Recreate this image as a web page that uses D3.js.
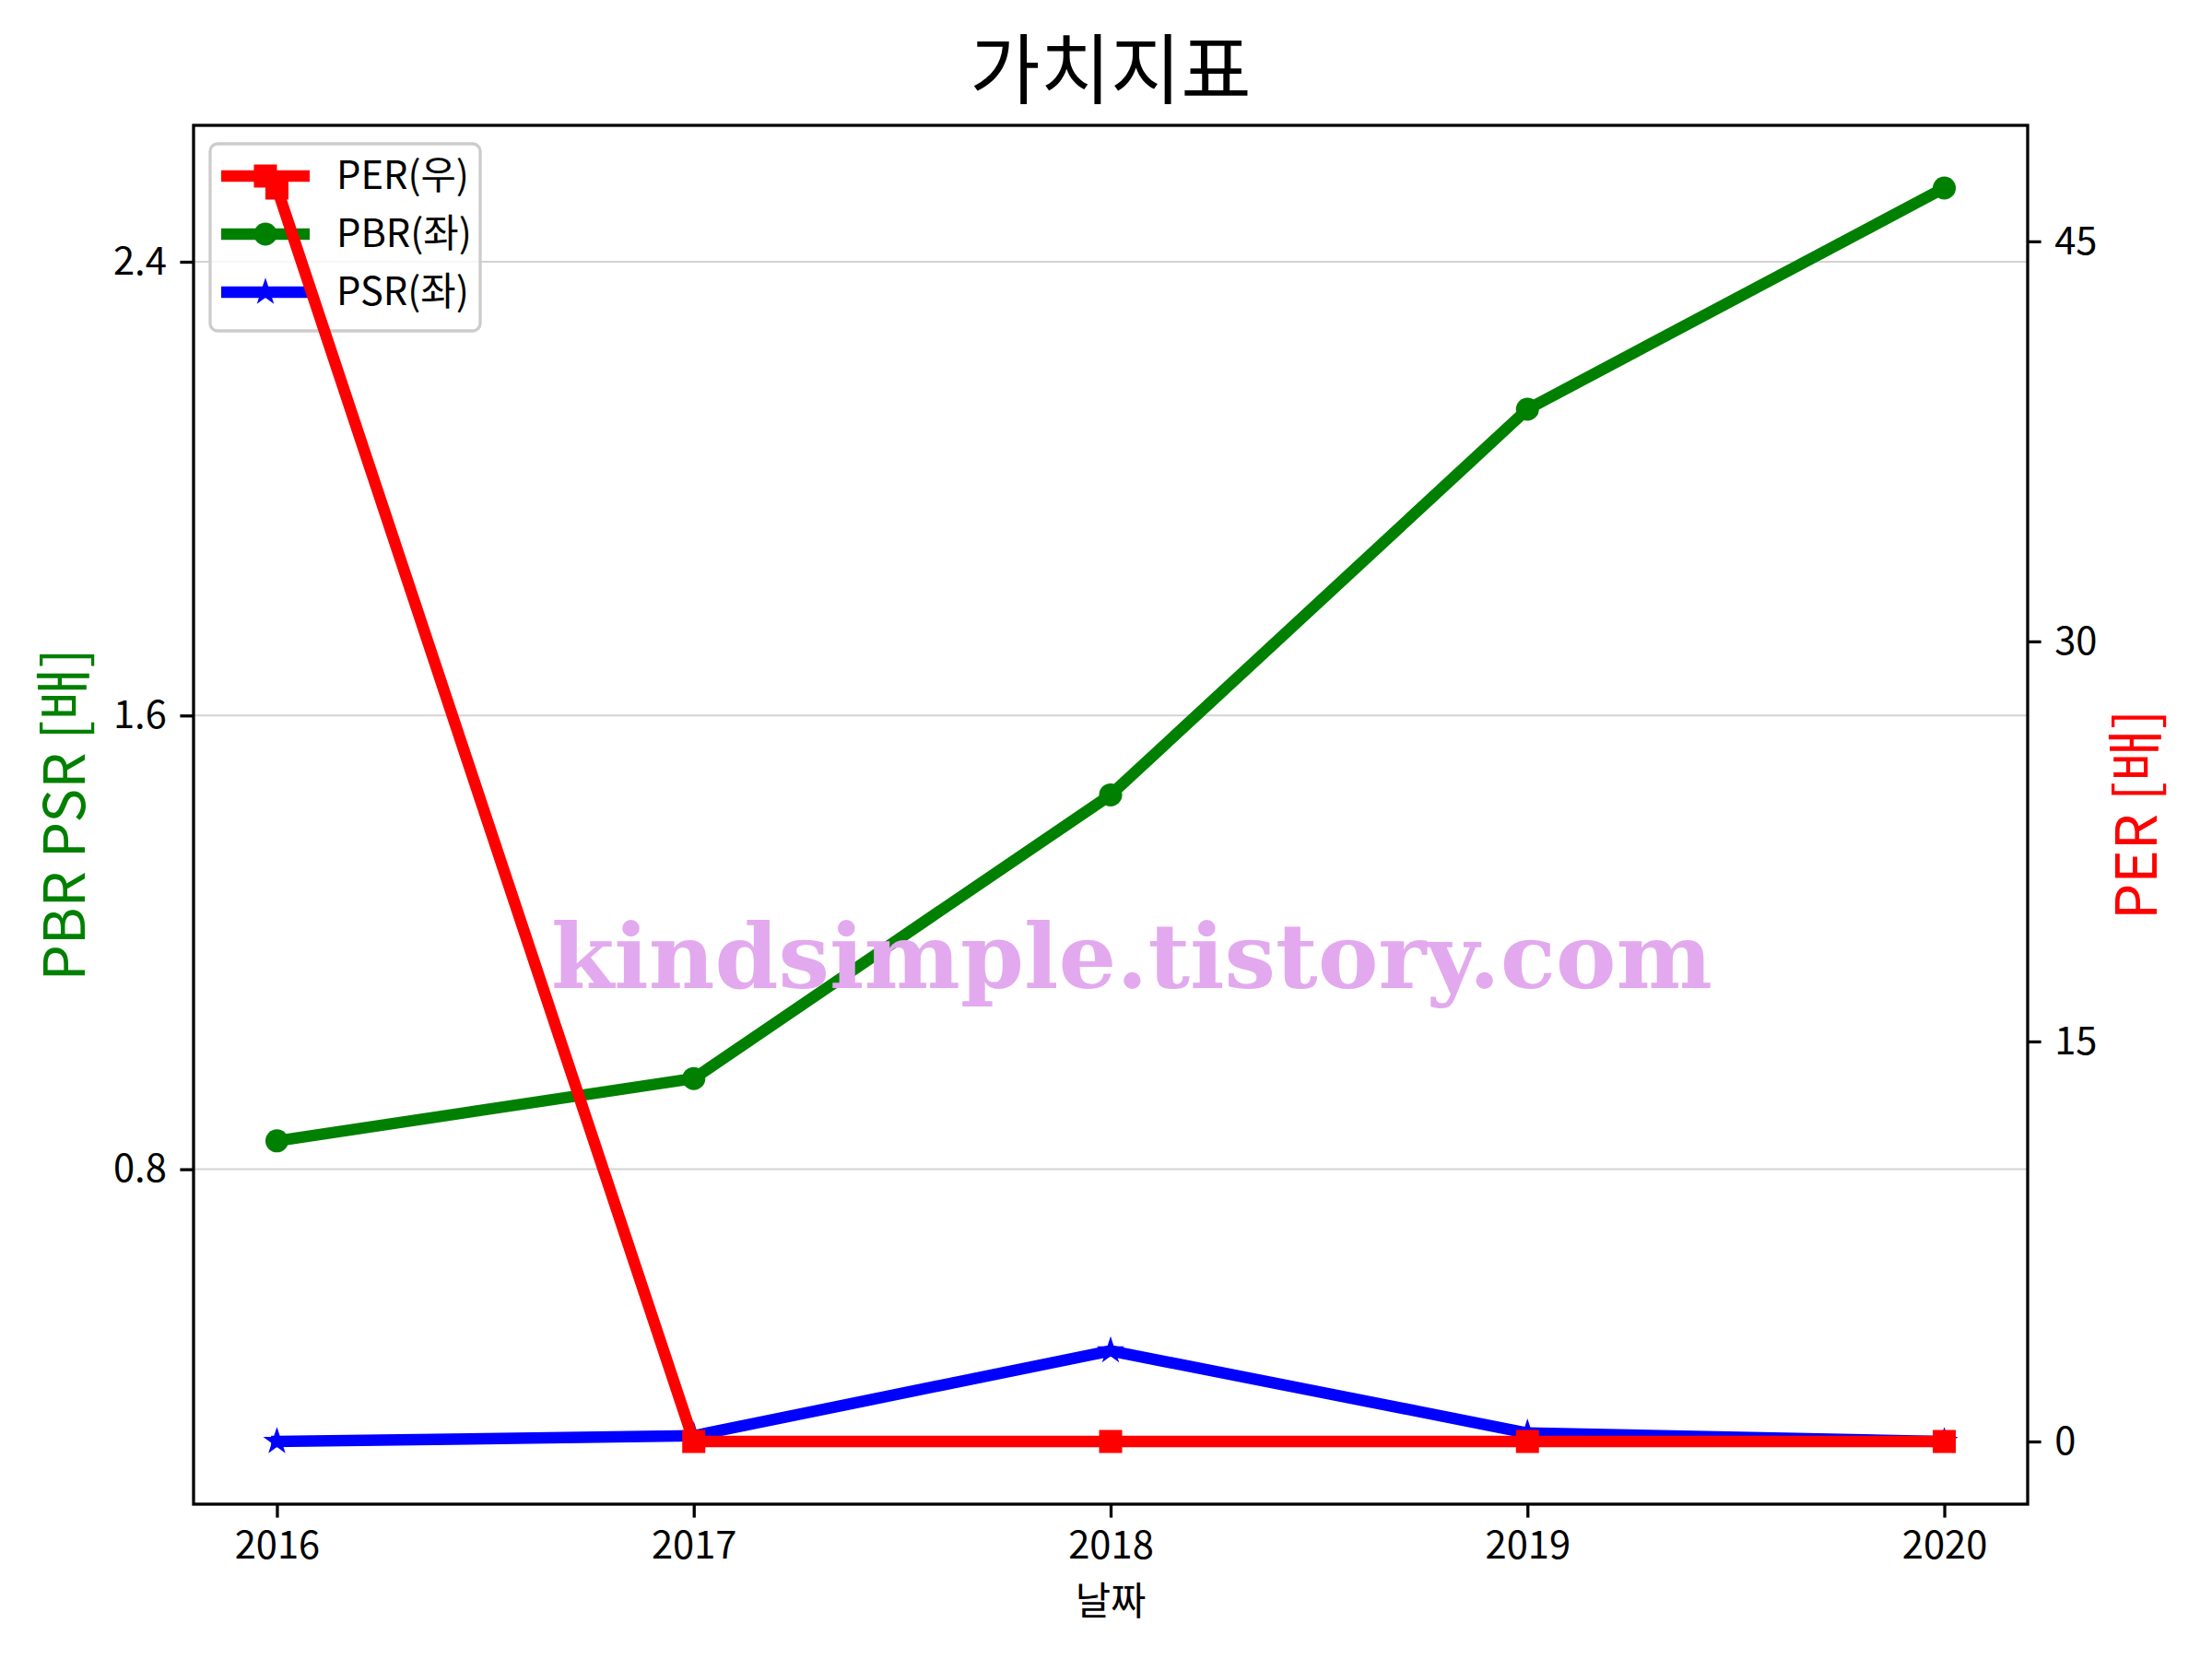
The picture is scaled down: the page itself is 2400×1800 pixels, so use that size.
<!DOCTYPE html>
<html>
<head>
<meta charset="utf-8">
<script src="https://cdn.jsdelivr.net/npm/d3@7"></script>
<style>
  html, body { margin: 0; padding: 0; background: #fff; }
  svg { display: block; }
  text { font-family: "Noto Sans CJK KR", "Noto Sans", sans-serif; }
</style>
</head>
<body>
<svg id="chart" width="2400" height="1800"></svg>
<script>
// ---- data ----
const years = [2016, 2017, 2018, 2019, 2020];
const PER = [47.0, 0, 0, 0, 0];
const PBR = [0.85, 0.96, 1.46, 2.14, 2.53];
const PSR = [0.32, 0.33, 0.48, 0.335, 0.32];
const leftTicks = [0.8, 1.6, 2.4];
const rightTicks = [0, 15, 30, 45];
const legendLabels = ["PER(우)", "PBR(좌)", "PSR(좌)"];
const titleText = "가치지표";
const xLabelText = "날짜";
const leftLabelText = "PBR PSR [배]";
const rightLabelText = "PER [배]";
const watermarkText = "kindsimple.tistory.com";

// ---- layout ----
const L = 210, R = 2200, T = 136, B = 1632;
const svg = d3.select("#chart");

function padDomain(vals) {
  const mn = d3.min(vals), mx = d3.max(vals), r = mx - mn;
  return [mn - 0.05 * r, mx + 0.05 * r];
}

const x = d3.scaleLinear().domain([2016 - 0.2, 2020 + 0.2]).range([L, R]);
const yL = d3.scaleLinear().domain(padDomain(PBR.concat(PSR))).range([B, T]);
const yR = d3.scaleLinear().domain(padDomain(PER)).range([B, T]);

// grid (left axis)
svg.append("g").selectAll("line").data(leftTicks).join("line")
  .attr("x1", L).attr("x2", R)
  .attr("y1", d => yL(d)).attr("y2", d => yL(d))
  .attr("stroke", "#d3d3d3").attr("stroke-width", 2);

const LW = 12.5;
const STAR = 280;
function drawSeries(vals, yS, color, sym, size) {
  const g = svg.append("g");
  const line = d3.line().x((d, i) => x(years[i])).y(d => yS(d));
  g.append("path").datum(vals).attr("d", line)
    .attr("fill", "none").attr("stroke", color).attr("stroke-width", LW)
    .attr("stroke-linejoin", "round").attr("stroke-linecap", "square");
  g.selectAll("path.m").data(vals).join("path").attr("class", "m")
    .attr("transform", (d, i) => `translate(${x(years[i])},${yS(d)})`)
    .attr("d", d3.symbol().type(sym).size(size))
    .attr("fill", color);
}

drawSeries(PBR, yL, "green", d3.symbolCircle, 491);
drawSeries(PSR, yL, "blue", d3.symbolStar, STAR);

// legend
const lg = svg.append("g");
lg.append("rect").attr("x", 228).attr("y", 156).attr("width", 293).attr("height", 203)
  .attr("rx", 8).attr("fill", "white").attr("fill-opacity", 0.8)
  .attr("stroke", "#cccccc").attr("stroke-width", 3.3);
const legendItems = [
  {label: legendLabels[0], color: "red", sym: d3.symbolSquare, size: 625},
  {label: legendLabels[1], color: "green", sym: d3.symbolCircle, size: 491},
  {label: legendLabels[2], color: "blue", sym: d3.symbolStar, size: STAR}
];
legendItems.forEach((it, i) => {
  const cy = 191 + i * 63;
  lg.append("line").attr("x1", 240).attr("x2", 336).attr("y1", cy).attr("y2", cy)
    .attr("stroke", it.color).attr("stroke-width", LW);
  lg.append("path").attr("transform", `translate(288,${cy})`)
    .attr("d", d3.symbol().type(it.sym).size(it.size)).attr("fill", it.color);
  lg.append("text").attr("x", 365).attr("y", cy + 14).attr("font-size", 41.7)
    .attr("fill", "black").text(it.label);
});

// PER on right axis (drawn above)
drawSeries(PER, yR, "red", d3.symbolSquare, 625);

// axes
const xAxis = d3.axisBottom(x).tickValues(years).tickFormat(d3.format("d"))
  .tickSizeOuter(0).tickSize(14.6).tickPadding(12);
const gx = svg.append("g").attr("transform", `translate(0,${B})`).call(xAxis);
const yAxisL = d3.axisLeft(yL).tickValues(leftTicks).tickFormat(d3.format(".1f"))
  .tickSizeOuter(0).tickSize(14.6).tickPadding(14.6);
const gyl = svg.append("g").attr("transform", `translate(${L},0)`).call(yAxisL);
const yAxisR = d3.axisRight(yR).tickValues(rightTicks).tickFormat(d3.format("d"))
  .tickSizeOuter(0).tickSize(14.6).tickPadding(14.6);
const gyr = svg.append("g").attr("transform", `translate(${R},0)`).call(yAxisR);
[gx, gyl, gyr].forEach(g => {
  g.select(".domain").remove();
  g.selectAll(".tick line").attr("stroke", "black").attr("stroke-width", 3.3);
  g.selectAll(".tick text").attr("font-size", 41.7).attr("fill", "black")
    .attr("font-family", "'Noto Sans CJK KR', 'Noto Sans', sans-serif");
});
gx.selectAll(".tick text").attr("dy", "0.78em");

// spines
svg.append("rect").attr("x", L).attr("y", T).attr("width", R - L).attr("height", B - T)
  .attr("fill", "none").attr("stroke", "black").attr("stroke-width", 3.3);

// titles and labels
svg.append("text").attr("x", (L + R) / 2).attr("y", 106).attr("text-anchor", "middle")
  .attr("font-size", 83).attr("fill", "black").text(titleText);
svg.append("text").attr("x", (L + R) / 2).attr("y", 1752).attr("text-anchor", "middle")
  .attr("font-size", 41.7).attr("fill", "black").text(xLabelText);
svg.append("text").attr("transform", `translate(92,${(T + B) / 2}) rotate(-90)`)
  .attr("text-anchor", "middle").attr("font-size", 62).attr("fill", "green").text(leftLabelText);
svg.append("text").attr("transform", `translate(2340,${(T + B) / 2}) rotate(-90)`)
  .attr("text-anchor", "middle").attr("font-size", 62).attr("fill", "red").text(rightLabelText);

// watermark
svg.append("text").attr("x", 598).attr("y", 1072)
  .attr("font-family", "'DejaVu Serif', serif").attr("font-weight", "bold")
  .attr("font-size", 98).attr("fill", "#e3a9ee")
  .attr("textLength", 1260).attr("lengthAdjust", "spacingAndGlyphs")
  .style("font-family", "'DejaVu Serif', serif")
  .text(watermarkText);
</script>
</body>
</html>
